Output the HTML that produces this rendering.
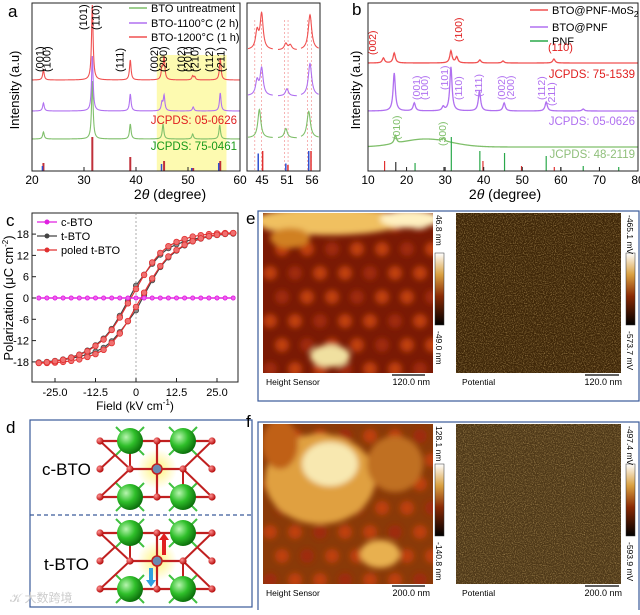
<!DOCTYPE html>
<html><head><meta charset="utf-8"><style>
body{margin:0;background:#fff;width:640px;height:610px;overflow:hidden;font-family:"Liberation Sans",Arial,sans-serif}
svg text{font-family:"Liberation Sans",Arial,sans-serif}
</style></head><body>
<svg id="fig" width="640" height="610" viewBox="0 0 640 610" xmlns="http://www.w3.org/2000/svg">
<defs>
<filter id="noise1" x="0" y="0" width="1" height="1"><feTurbulence type="fractalNoise" baseFrequency="0.9" numOctaves="2" seed="3"/><feColorMatrix values="0 0 0 0 0.62  0 0 0 0 0.42  0 0 0 0 0.15  0 0 0 2.2 -1.0"/></filter>
<filter id="blur3"><feGaussianBlur stdDeviation="3"/></filter>
<linearGradient id="cbar" x1="0" y1="0" x2="0" y2="1"><stop offset="0" stop-color="#fff"/><stop offset="0.3" stop-color="#d9a040"/><stop offset="0.6" stop-color="#8a2a05"/><stop offset="1" stop-color="#000"/></linearGradient>
<radialGradient id="sph" cx="0.35" cy="0.35" r="0.7"><stop offset="0" stop-color="#b8f5b0"/><stop offset="0.5" stop-color="#2fbf2a"/><stop offset="1" stop-color="#0a6a0a"/></radialGradient>
<radialGradient id="osph" cx="0.35" cy="0.35" r="0.7"><stop offset="0" stop-color="#ff9090"/><stop offset="1" stop-color="#b00000"/></radialGradient>
<radialGradient id="glow"><stop offset="0" stop-color="#fff36a" stop-opacity="0.9"/><stop offset="1" stop-color="#fff36a" stop-opacity="0"/></radialGradient>
</defs>
<g id="pa"></g><g id="pb"></g><g id="pc"></g><g id="pd"></g><g id="pe"></g>
</svg>
<script>
const NS="http://www.w3.org/2000/svg";
// ---- data panel a ----
const aPeaksRed=[[22.2,10],[31.6,75],[38.9,20],[45.0,11],[45.4,22],[50.9,4],[51.3,3],[56.2,22]];
const aPeaksPurple=[[22.2,8],[31.6,55],[38.9,17],[45.0,8],[45.4,15],[51.0,4],[56.2,18]];
const aPeaksGreen=[[22.2,7],[31.6,58],[38.9,15],[45.2,15],[50.9,5],[56.1,14]];
const aSticksRed=[[22.2,8],[31.6,34],[38.9,14],[45.4,10],[56.2,10],[51,3]];
const aSticksBlue=[[22.2,5],[45.1,7],[56.1,8],[50.9,3]];
const aXTicks=[20,30,40,50,60];
const aHkl=[["(001)",22.2,24],["(100)",23.6,30],["(101)",30.6,-40],["(110)",33.0,-30],["(111)",37.6,46],["(002)",44.2,48],["(200)",46.0,52],["(102)",49.4,50],["(201)",50.7,52],["(210)",52.0,52],["(112)",54.8,52],["(211)",57.0,56]];
// ---- data panel b ----
const bPeaksRed=[[14,5],[16.8,10],[31.5,12],[33,6],[39,3],[45,2],[58.2,4]];
const bPeaksPurple=[[16.8,38],[22,8],[29.5,4],[31.5,44],[38.9,20],[45.3,8],[56.2,9],[65.8,2]];
const bPeaksGreen=[[17.1,8],[29.5,3]];
const bSticks=[[14.3,"#e03030",10],[17.2,"#333",9],[22.2,"#2aa84a",8],[29.7,"#333",4],[31.6,"#2aa84a",34],[39,"#2aa84a",20],[39.8,"#e03030",10],[45.4,"#2aa84a",18],[49.8,"#e03030",5],[56.2,"#2aa84a",15],[58.3,"#e03030",4],[60,"#333",4],[65.8,"#2aa84a",5],[75,"#2aa84a",4]];
const bXTicks=[10,20,30,40,50,60,70,80];
// ---- data panel c ----
const cField=[30,27.5,25,22.5,20,17.5,15,12.5,10,7.5,5,2.5,0,-2.5,-5,-7.5,-10,-12.5,-15,-17.5,-20,-22.5,-25,-27.5,-30];
const cPoled=[18.3,18.3,18.2,18.0,17.7,17.3,16.6,15.8,14.6,12.7,10.0,6.5,2.5,-1.5,-5.5,-9.0,-11.7,-13.5,-15.0,-16.0,-16.8,-17.4,-17.8,-18.1,-18.3];
const cT=[18.1,18.0,17.7,17.4,17.0,16.5,15.9,15.1,14.0,12.2,9.6,6.6,3.5,-0.8,-5.0,-8.7,-11.4,-13.3,-14.8,-15.9,-16.7,-17.3,-17.7,-18.0,-18.2];
const cCubic=[0,0,0,0,0,0,0,0,0,0,0,0,0,0,0,0,0,0,0,0,0,0,0,0,0];
const cYTicks=[-18,-12,-6,0,6,12,18];
const cXTicks=[-25,-12.5,0,12.5,25];

function el(parent,tag,attrs,text){const e=document.createElementNS(NS,tag);for(const k in attrs)e.setAttribute(k,attrs[k]);if(text!==undefined)e.textContent=text;parent.appendChild(e);return e;}
function lor(x,peaks,w){let s=0;for(const p of peaks){const d=(x-p[0])/w;s+=p[1]/(1+d*d);}return s;}

// ===== Panel a =====
const pa=document.getElementById('pa');
const xa=v=>32+(v-20)*5.2;
let r=el(pa,'rect',{x:xa(44),y:55,width:xa(57.4)-xa(44),height:116,fill:'#fdfab0'});

function curveA(peaks,base,color,name){let d='';for(let v=20;v<=60;v+=0.05){d+=(d?'L':'M')+xa(v).toFixed(2)+','+(base-lor(v,peaks,0.18)).toFixed(2);}const p=el(pa,'path',{d:d,fill:'none',stroke:color,'stroke-width':1.1});}
curveA(aPeaksGreen,139,'#7fbf6a','curve-untreated');
curveA(aPeaksPurple,111,'#b070f0','curve-1100c');
curveA(aPeaksRed,80,'#f05050','curve-1200c');
for(const s of aSticksRed){const l=el(pa,'line',{x1:xa(s[0]),x2:xa(s[0]),y1:171,y2:171-s[1],stroke:'#c0303a','stroke-width':2});}
for(const s of aSticksBlue){const l=el(pa,'line',{x1:xa(s[0])-1,x2:xa(s[0])-1,y1:171,y2:171-s[1],stroke:'#3050d0','stroke-width':1.5});}
r=el(pa,'rect',{x:32,y:3,width:208,height:168,fill:'none',stroke:'#222','stroke-width':1});
for(const t of aXTicks){el(pa,'line',{x1:xa(t),x2:xa(t),y1:171,y2:167,stroke:'#222'});const tx=el(pa,'text',{x:xa(t),y:184,'text-anchor':'middle','font-size':12},t);}
for(const h of aHkl){const x=xa(h[1]);const yy=h[2]<0?30:72;const tx=el(pa,'text',{x:x,y:yy,'font-size':11,transform:`rotate(-90 ${x} ${yy})`},h[0]);}
let t=el(pa,'text',{x:8,y:17,'font-size':17},'a');
t=el(pa,'text',{x:19,y:90,'font-size':13,'text-anchor':'middle',transform:'rotate(-90 19 90)'},'Intensity (a.u)');
t=el(pa,'text',{x:170,y:199,'font-size':14,'text-anchor':'middle'});t.innerHTML='2<tspan font-style="italic">θ</tspan> (degree)';
const legA=[['BTO untreatment','#7fbf6a',12],['BTO-1100°C (2 h)','#b070f0',27],['BTO-1200°C (1 h)','#f05050',41]];
for(const L of legA){const g=el(pa,'g',{});el(g,'line',{x1:129,x2:147,y1:L[2]-4,y2:L[2]-4,stroke:L[1],'stroke-width':1.5});el(g,'text',{x:151,y:L[2],'font-size':11},L[0]);}
t=el(pa,'text',{x:237,y:124,'font-size':11.5,'text-anchor':'end',fill:'#e02020'},'JCPDS: 05-0626');
t=el(pa,'text',{x:237,y:150,'font-size':11.5,'text-anchor':'end',fill:'#1a9a1a'},'JCPDS: 75-0461');
// inset
const segs=[[44.2,46.4,248,273],[50.2,51.9,278,297],[55.5,56.9,301,319]];
function xi(v){for(const s of segs){if(v>=s[0]&&v<=s[1])return s[2]+(v-s[0])/(s[1]-s[0])*(s[3]-s[2]);}return null;}
function curveI(peaks,base,color,scale){let d='';for(const s of segs){let first=true;for(let v=s[0];v<=s[1];v+=0.02){d+=(first?'M':'L')+xi(v).toFixed(2)+','+(base-lor(v,peaks,0.16)*scale).toFixed(2);first=false;}}const p=el(pa,'path',{d:d,fill:'none',stroke:color,'stroke-width':1.1});}
for(const v of [44.8,45.4,50.8,51.1,56.0,56.3]){const l=el(pa,'line',{x1:xi(v),x2:xi(v),y1:20,y2:171,stroke:'#f08080','stroke-width':0.6,'stroke-dasharray':'2,2'});}
curveI(aPeaksRed,50,'#f05050',1.6);curveI(aPeaksPurple,96,'#b070f0',1.8);curveI(aPeaksGreen,138,'#7fbf6a',1.9);
for(const s of aSticksRed.filter(s=>xi(s[0])!==null)){el(pa,'line',{x1:xi(s[0])+1,x2:xi(s[0])+1,y1:171,y2:171-s[1]*2,stroke:'#e03030','stroke-width':1.5});}
for(const s of aSticksBlue.filter(s=>xi(s[0])!==null)){el(pa,'line',{x1:xi(s[0]),x2:xi(s[0]),y1:171,y2:171-s[1]*2.5,stroke:'#3050d0','stroke-width':1.5});}
r=el(pa,'rect',{x:247,y:3,width:73,height:168,fill:'none',stroke:'#222'});
[[45,262],[51,287],[56,312]].forEach(q=>{const tx=el(pa,'text',{x:q[1],y:184,'font-size':12,'text-anchor':'middle'},q[0]);});

// ===== Panel b =====
const pb=document.getElementById('pb');
const xb=v=>368+(v-10)*270/70;
function curveB(peaks,base,color,name,hump){let d='';for(let v=10;v<=80;v+=0.1){const h=hump?8*Math.exp(-Math.pow((v-25)/9,2)):0;d+=(d?'L':'M')+xb(v).toFixed(2)+','+(base-lor(v,peaks,0.35)-h).toFixed(2);}const p=el(pb,'path',{d:d,fill:'none',stroke:color,'stroke-width':1.3});}
curveB(bPeaksGreen,147,'#7fbf6a','curve-pnf',true);
curveB(bPeaksPurple,111,'#b070f0','curve-bto-pnf',false);
curveB(bPeaksRed,63,'#f05050','curve-bto-pnf-mos2',false);
for(const s of bSticks){const l=el(pb,'line',{x1:xb(s[0]),x2:xb(s[0]),y1:171,y2:171-s[2],stroke:s[1],'stroke-width':1.2});}
r=el(pb,'rect',{x:368,y:3,width:270,height:168,fill:'none',stroke:'#222'});
for(const tk of bXTicks){el(pb,'line',{x1:xb(tk),x2:xb(tk),y1:171,y2:167,stroke:'#222'});const tx=el(pb,'text',{x:xb(tk),y:184,'text-anchor':'middle','font-size':12},tk);}
t=el(pb,'text',{x:352,y:15,'font-size':17},'b');
t=el(pb,'text',{x:360,y:90,'font-size':13,'text-anchor':'middle',transform:'rotate(-90 360 90)'},'Intensity (a.u)');
t=el(pb,'text',{x:505,y:199,'font-size':14,'text-anchor':'middle'});t.innerHTML='2<tspan font-style="italic">θ</tspan> (degree)';
const legB=[['BTO@PNF-MoS','#f05050',14],['BTO@PNF','#b070f0',31],['PNF','#2aa84a',45]];
legB.forEach((L,i)=>{const g=el(pb,'g',{});el(g,'line',{x1:530,x2:548,y1:L[2]-4,y2:L[2]-4,stroke:L[1],'stroke-width':1.5});const tx=el(g,'text',{x:552,y:L[2],'font-size':11},L[0]);if(i==0)tx.innerHTML='BTO@PNF-MoS<tspan font-size="8" dy="3">2</tspan>';});
[['JCPDS: 75-1539','#e02020',78],['JCPDS: 05-0626','#b070f0',125],['JCPDS: 48-2119','#8fbf7a',158]].forEach(q=>{const tx=el(pb,'text',{x:635,y:q[2],'font-size':11.5,'text-anchor':'end',fill:q[1]},q[0]);});
[["(002)",376,55,'#e02020'],["(100)",462,42,'#e02020'],["(001)",420,100,'#b070f0'],["(100)",428,100,'#b070f0'],["(101)",448,90,'#b070f0'],["(110)",462,100,'#b070f0'],["(111)",482,97,'#b070f0'],["(002)",505,100,'#b070f0'],["(200)",514,100,'#b070f0'],["(112)",545,100,'#b070f0'],["(211)",555,106,'#b070f0'],["(010)",400,140,'#7fbf6a'],["(300)",446,146,'#7fbf6a']].forEach(q=>{const tx=el(pb,'text',{x:q[1],y:q[2],'font-size':10.5,fill:q[3],transform:`rotate(-90 ${q[1]} ${q[2]})`},q[0]);});
t=el(pb,'text',{x:548,y:51,'font-size':11,fill:'#e02020'},'(110)');

// ===== Panel c =====
const pc=document.getElementById('pc');
const xc=v=>136+v*3.24, yc=v=>298-v*3.55;
r=el(pc,'rect',{x:32,y:213,width:206,height:169,fill:'none',stroke:'#222'});
el(pc,'line',{x1:136,x2:136,y1:213,y2:382,stroke:'#888','stroke-width':0.7,'stroke-dasharray':'2,2'});
for(const v of cYTicks){el(pc,'line',{x1:32,x2:36,y1:yc(v),y2:yc(v),stroke:'#222'});const tx=el(pc,'text',{x:29,y:yc(v)+4,'font-size':11,'text-anchor':'end'},v);}
for(const v of cXTicks){el(pc,'line',{x1:xc(v),x2:xc(v),y1:382,y2:378,stroke:'#222'});const tx=el(pc,'text',{x:xc(v),y:396,'font-size':11,'text-anchor':'middle'},v.toFixed(1).replace('0.0','0'));}
function loop(vals,color,fill,name,r0){
let d='';cField.forEach((f,i)=>{d+=(i?'L':'M')+xc(f)+','+yc(vals[i]);});
const p=el(pc,'path',{d:d,fill:'none',stroke:color,'stroke-width':1.2});
let d2='';cField.forEach((f,i)=>{d2+=(i?'L':'M')+xc(-f)+','+yc(-vals[i]);});
const p2=el(pc,'path',{d:d2,fill:'none',stroke:color,'stroke-width':1.2});
cField.forEach((f,i)=>{for(const s of [1,-1]){const c=el(pc,'circle',{cx:xc(s*f),cy:yc(s*vals[i]),r:r0,fill:fill,stroke:color,'stroke-width':0.8});}});}
loop(cT,'#444','#888','t-bto-loop',2.6);
loop(cPoled,'#e03030','#f07070','poled-t-bto-loop',2.8);
loop(cCubic,'#e020e0','#f060f0','c-bto-line',2);
[['c-BTO','#e020e0',226],['t-BTO','#444',240],['poled t-BTO','#e03030',254]].forEach(L=>{const g=el(pc,'g',{});el(g,'line',{x1:37,x2:57,y1:L[2]-4,y2:L[2]-4,stroke:L[1],'stroke-width':1.2});el(g,'circle',{cx:47,cy:L[2]-4,r:2.5,fill:L[1]});el(g,'text',{x:61,y:L[2],'font-size':11},L[0]);});
t=el(pc,'text',{x:6,y:226,'font-size':17},'c');
t=el(pc,'text',{x:13,y:298,'font-size':13,'text-anchor':'middle',transform:'rotate(-90 13 298)'});t.innerHTML='Polarization (μC cm<tspan font-size="8" dy="-5">-2</tspan><tspan dy="5">)</tspan>';
t=el(pc,'text',{x:135,y:410,'font-size':12,'text-anchor':'middle'});t.innerHTML='Field (kV cm<tspan font-size="8" dy="-5">-1</tspan><tspan dy="5">)</tspan>';

// ===== Panel d =====
const pd=document.getElementById('pd');
t=el(pd,'text',{x:6,y:433,'font-size':17},'d');
r=el(pd,'rect',{x:30,y:420,width:222,height:187,fill:'#fff',stroke:'#3a5a9a','stroke-width':1.2});
el(pd,'line',{x1:30,x2:252,y1:515,y2:515,stroke:'#3a5a9a','stroke-width':1.2,'stroke-dasharray':'4,3'});
function cell(cy,name){const g=el(pd,'g',{});
const xs=[130,183],ys=[cy-28,cy+28],cx=157;
el(g,'circle',{cx:cx,cy:cy,r:20,fill:'url(#glow)'});
const O=[[100,ys[0]],[157,ys[0]],[212,ys[0]],[100,cy],[130,cy],[183,cy],[212,cy],[100,ys[1]],[157,ys[1]],[212,ys[1]]];
for(const a of xs)for(const b of ys){el(g,'line',{x1:a-14,y1:b-14,x2:a+14,y2:b+14,stroke:'#40c040','stroke-width':2});el(g,'line',{x1:a+14,y1:b-14,x2:a-14,y2:b+14,stroke:'#40c040','stroke-width':2});}
el(g,'line',{x1:100,x2:212,y1:ys[0],y2:ys[0],stroke:'#c02020','stroke-width':2.2});el(g,'line',{x1:100,x2:212,y1:ys[1],y2:ys[1],stroke:'#c02020','stroke-width':2.2});el(g,'line',{x1:130,x2:183,y1:cy,y2:cy,stroke:'#c02020','stroke-width':2.2});
el(g,'line',{x1:157,x2:157,y1:ys[0],y2:ys[1],stroke:'#c02020','stroke-width':2.2});
for(const p of [[100,ys[0],130,cy],[100,ys[1],130,cy],[212,ys[0],183,cy],[212,ys[1],183,cy],[100,cy,115,ys[0]+14],[212,cy,197,ys[0]+14],[130,cy,130,ys[0]],[183,cy,183,ys[1]]])el(g,'line',{x1:p[0],y1:p[1],x2:p[2],y2:p[3],stroke:'#c02020','stroke-width':2});
for(const o of O)el(g,'circle',{cx:o[0],cy:o[1],r:3.6,fill:'url(#osph)'});
el(g,'circle',{cx:cx,cy:cy,r:5,fill:'#6a8ab0',stroke:'#c02020','stroke-width':1.5});
for(const a of xs)for(const b of ys)el(g,'circle',{cx:a,cy:b,r:13,fill:'url(#sph)'});}
cell(469,'cubic-cell');cell(561,'tetragonal-cell');
const arU=el(pd,'path',{d:'M162,555 L162,540 L159,540 L164,533 L169,540 L166,540 L166,555Z',fill:'#e02020'});
const arD=el(pd,'path',{d:'M149,568 L149,580 L146,580 L151,587 L156,580 L153,580 L153,568Z',fill:'#30a0e0'});
t=el(pd,'text',{x:42,y:475,'font-size':17},'c-BTO');
t=el(pd,'text',{x:44,y:570,'font-size':17},'t-BTO');
t=el(pd,'text',{x:10,y:602,'font-size':12,fill:'#ccc'},'𝒦 大数跨境');

// ===== Panels e,f =====
const pe=document.getElementById('pe');
function afm(y0,h,top,bot,scale,ptop,pbot,name,bright){
const g=el(pe,'g',{});
el(g,'rect',{x:258,y:y0-2,width:381,height:h+30,fill:'#fff',stroke:'#3a5a9a','stroke-width':1.2});
const cp=el(g,'clipPath',{id:'cp'+name});el(cp,'rect',{x:263,y:y0,width:170,height:h});
const img=el(g,'g',{'clip-path':`url(#cp${name})`});
el(img,'rect',{x:263,y:y0,width:170,height:h,fill:bright?'#8a3a08':'#7a1a04'});
const bl=el(img,'g',{filter:'url(#blur3)'});
for(let i=0;i<7;i++)for(let j=0;j<7;j++){el(bl,'circle',{cx:270+i*25+(j%2)*12,cy:y0+12+j*24,r:7,fill:(i+j)%3?'#c04010':'#a02a08'});}
if(!bright){el(bl,'ellipse',{cx:330,cy:y0+8,rx:75,ry:14,fill:'#f0c060'});el(bl,'ellipse',{cx:410,cy:y0+6,rx:30,ry:9,fill:'#fff0c0'});el(bl,'ellipse',{cx:330,cy:y0+143,rx:20,ry:11,fill:'#f0e0a0'});el(bl,'ellipse',{cx:290,cy:y0+25,rx:20,ry:10,fill:'#d08020'});}
else{el(bl,'ellipse',{cx:320,cy:y0+55,rx:55,ry:45,fill:'#e0a040'});el(bl,'ellipse',{cx:330,cy:y0+40,rx:28,ry:22,fill:'#f8e8b0'});el(bl,'ellipse',{cx:395,cy:y0+40,rx:28,ry:28,fill:'#c07020'});el(bl,'ellipse',{cx:380,cy:y0+130,rx:20,ry:14,fill:'#e8b050'});el(bl,'ellipse',{cx:280,cy:y0+20,rx:18,ry:25,fill:'#c06018'});}
el(g,'rect',{x:435,y:y0+40,width:9,height:72,fill:'url(#cbar)',stroke:'#333','stroke-width':0.5});
el(g,'text',{x:436,y:y0+2,'font-size':8.5,transform:`rotate(90 436 ${y0+2})`},top);
el(g,'text',{x:436,y:y0+118,'font-size':8.5,transform:`rotate(90 436 ${y0+118})`},bot);
const pi=el(g,'g',{});
el(pi,'rect',{x:456,y:y0,width:165,height:h,fill:bright?'#4e3818':'#3e2608'});
el(pi,'rect',{x:456,y:y0,width:165,height:h,filter:'url(#noise1)',opacity:0.7});
el(g,'rect',{x:626,y:y0+40,width:9,height:72,fill:'url(#cbar)',stroke:'#333','stroke-width':0.5});
el(g,'text',{x:627,y:y0+2,'font-size':8.5,transform:`rotate(90 627 ${y0+2})`},ptop);
el(g,'text',{x:627,y:y0+118,'font-size':8.5,transform:`rotate(90 627 ${y0+118})`},pbot);
const by=y0+h+12;
el(g,'text',{x:266,y:by,'font-size':8.5},'Height Sensor');
el(g,'line',{x1:392,x2:425,y1:by-10,y2:by-10,stroke:'#000','stroke-width':1.2});
el(g,'text',{x:430,y:by,'font-size':9,'text-anchor':'end'},scale);
el(g,'text',{x:462,y:by,'font-size':8.5},'Potential');
el(g,'line',{x1:585,x2:619,y1:by-10,y2:by-10,stroke:'#000','stroke-width':1.2});
el(g,'text',{x:622,y:by,'font-size':9,'text-anchor':'end'},scale);}
afm(213,160,'46.8 nm','-49.0 nm','120.0 nm','-465.1 mV','-573.7 mV','afm-panel-e',false);
afm(424,160,'128.1 nm','-140.8 nm','200.0 nm','-497.4 mV','-593.9 mV','afm-panel-f',true);
t=el(pe,'text',{x:246,y:224,'font-size':17},'e');
t=el(pe,'text',{x:246,y:427,'font-size':17},'f');
</script>
</body></html>
